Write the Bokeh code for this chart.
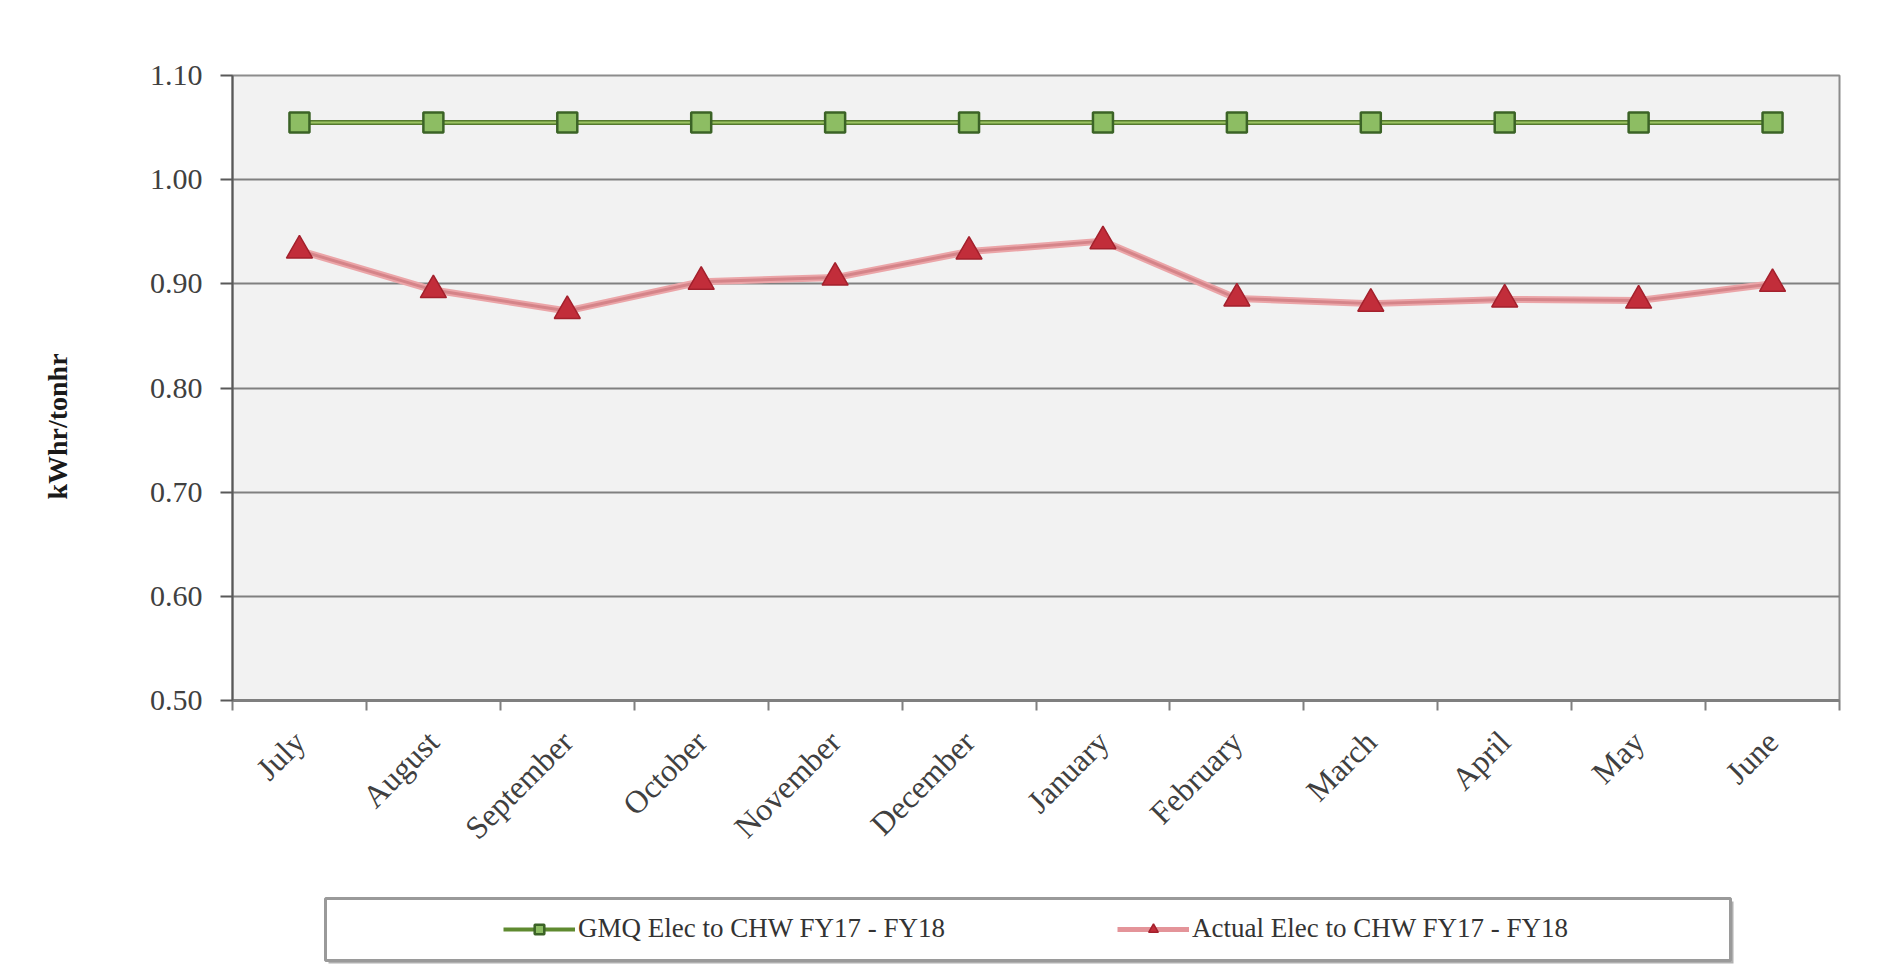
import math
from bokeh.plotting import figure
from bokeh.layouts import column, row
from bokeh.models import (Range1d, FixedTicker, NumeralTickFormatter, Legend, LegendItem,
                          Label, BoxAnnotation)
from bokeh.embed import file_html
from bokeh.resources import INLINE

# ---------------- data ----------------
months = ["July", "August", "September", "October", "November", "December",
          "January", "February", "March", "April", "May", "June"]
gmq = [1.055, 1.055, 1.055, 1.055, 1.055, 1.055,
       1.055, 1.055, 1.055, 1.055, 1.055, 1.055]
actual = [0.932, 0.894, 0.874, 0.902, 0.906, 0.931,
          0.941, 0.886, 0.881, 0.885, 0.884, 0.900]
y_ticks = [0.50, 0.60, 0.70, 0.80, 0.90, 1.00, 1.10]
series_names = ["GMQ Elec to CHW FY17 - FY18", "Actual Elec to CHW FY17 - FY18"]
y_title = "kWhr/tonhr"

FONT = "Liberation Serif"
TOTAL_W = 1876
TITLE_W = 100
MAIN_H = 880
LEG_H = 100

xs = [i + 0.5 for i in range(len(months))]

# styles
G_OUT = dict(line_color="#557a2e", line_width=5)
G_IN = dict(line_color="#9cc463", line_width=2)
G_MK = dict(marker="square", size=20, fill_color="#8dbd63", line_color="#3b6326", line_width=2.5)
R_OUT = dict(line_color="#eba5a8", line_width=7)
R_IN = dict(line_color="#d58489", line_width=3)
R_MK = dict(marker="triangle", size=26, fill_color="#c22d3a", line_color="#a3202c", line_width=1.5)

scr = dict(left_units="screen", right_units="screen", top_units="screen", bottom_units="screen")

# ---------------- y-title strip ----------------
p_yt = figure(width=TITLE_W, height=MAIN_H, output_backend="svg", toolbar_location=None,
              x_axis_type=None, y_axis_type=None, min_border=0,
              x_range=Range1d(0, 1), y_range=Range1d(0, 1),
              outline_line_color=None, background_fill_color="white", border_fill_color="white")
p_yt.add_layout(Label(x=57, y=274, x_units="screen", y_units="screen", text=y_title,
                      angle=math.pi / 2, text_font=FONT, text_font_style="bold",
                      text_font_size="28px", text_align="center", text_baseline="middle",
                      text_color="#1a1a1a"))

# ---------------- main chart ----------------
p = figure(width=TOTAL_W - TITLE_W, height=MAIN_H, output_backend="svg", toolbar_location=None,
           x_range=Range1d(0, len(months)), y_range=Range1d(y_ticks[0], y_ticks[-1]),
           min_border_left=132, min_border_right=37, min_border_top=75, min_border_bottom=180,
           background_fill_color="#f2f2f2", border_fill_color="white",
           outline_line_color="#8c8c8c", outline_line_width=2)

p.line(xs, gmq, **G_OUT)
p.line(xs, gmq, **G_IN)
p.scatter(xs, gmq, **G_MK)
p.line(xs, actual, **R_OUT)
p.line(xs, actual, **R_IN)
p.scatter(xs, actual, **R_MK)

ya = p.yaxis[0]
ya.ticker = FixedTicker(ticks=y_ticks)
ya.formatter = NumeralTickFormatter(format="0.00")
ya.major_tick_out = 12
ya.major_tick_in = 0
ya.major_tick_line_color = "#595959"
ya.major_tick_line_width = 2
ya.minor_tick_line_color = None
ya.axis_line_color = "#595959"
ya.axis_line_width = 2
ya.major_label_standoff = 18
ya.major_label_text_font = FONT
ya.major_label_text_font_size = "30px"
ya.major_label_text_color = "#404040"

xa = p.xaxis[0]
xa.ticker = FixedTicker(ticks=xs, minor_ticks=list(range(len(months) + 1)))
xa.major_label_overrides = {x: m for x, m in zip(xs, months)}
xa.major_tick_line_color = None
xa.minor_tick_out = 10
xa.minor_tick_in = 0
xa.minor_tick_line_color = "#7f7f7f"
xa.minor_tick_line_width = 2
xa.axis_line_color = "#7f7f7f"
xa.axis_line_width = 3
xa.major_label_orientation = math.pi / 4
xa.major_label_standoff = 26
xa.major_label_text_font = FONT
xa.major_label_text_font_size = "32px"
xa.major_label_text_color = "#404040"

p.xgrid.visible = False
p.ygrid.ticker = FixedTicker(ticks=y_ticks)
p.ygrid.grid_line_color = "#808080"
p.ygrid.grid_line_width = 2

# ---------------- legend strip ----------------
p_leg = figure(width=TOTAL_W, height=LEG_H, output_backend="svg", toolbar_location=None,
               x_axis_type=None, y_axis_type=None, min_border=0,
               x_range=Range1d(0, len(months)), y_range=Range1d(2, 3),
               outline_line_color=None, background_fill_color="white", border_fill_color="white")
lg = [p_leg.line(xs, gmq, line_color="#5f8a30", line_width=4),
      p_leg.scatter(xs, gmq, **G_MK)]
lr = [p_leg.line(xs, actual, line_color="#e49499", line_width=5),
      p_leg.scatter(xs, actual, **R_MK)]

p_leg.add_layout(BoxAnnotation(left=328, right=1733, top=79, bottom=17,
                               fill_color="#b0b0b0", fill_alpha=1, line_alpha=0, **scr))
p_leg.add_layout(BoxAnnotation(left=325, right=1730, top=82, bottom=20,
                               fill_color="white", fill_alpha=1,
                               line_color="#9a9a9a", line_alpha=1, line_width=3, **scr))

common = dict(orientation="horizontal", border_line_color=None, background_fill_alpha=0,
              padding=0, margin=0, glyph_width=72, glyph_height=24, label_standoff=3,
              label_text_font=FONT, label_text_font_size="27px", label_text_color="#333333")
p_leg.add_layout(Legend(items=[LegendItem(label=series_names[0], renderers=lg)],
                        location=(503, 36), **common))
p_leg.add_layout(Legend(items=[LegendItem(label=series_names[1], renderers=lr)],
                        location=(1117, 36), **common))

layout = column(row(p_yt, p), p_leg)
open("out.html", "w").write(file_html(layout, INLINE))
